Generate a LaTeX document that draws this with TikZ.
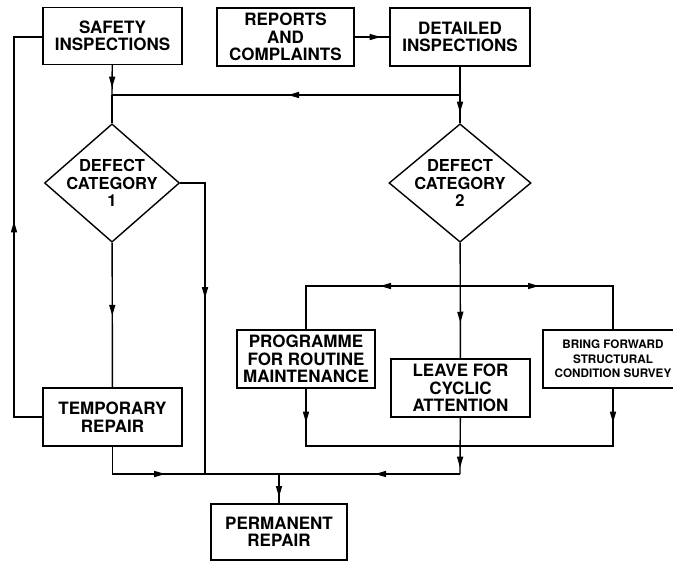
\documentclass[tikz,border=0pt]{standalone}
\usepackage{fontspec}
\setmainfont{TeX Gyre Heros}
\usetikzlibrary{shapes.geometric,arrows.meta,decorations.markings}
\tikzstyle{box} = [rectangle, draw, line width=1.4pt, align=center, font=\bfseries\fontsize{17}{17.5}\selectfont, minimum width=139pt, minimum height=58pt, inner sep=2pt]
\tikzstyle{decision} = [diamond, draw, line width=1.4pt, align=center, font=\bfseries\fontsize{16.5}{17.5}\selectfont, minimum width=135pt, minimum height=118pt, inner sep=-5pt]
\tikzstyle{connector} = [line width=1.4pt]
\tikzset{arrowat/.style={postaction={decorate}, decoration={markings, mark=at position #1 with {\arrow{Triangle[length=11pt,width=6pt]}}}}}

\begin{document}
\begin{tikzpicture}[x=1pt, y=-1pt]
    \useasboundingbox [fill=white] (0,0) rectangle (673,562);

    \node (safe) [box, minimum height=57pt] at (112.5,36) {SAFETY\\INSPECTIONS};
    \node (rep) [box, minimum width=137pt] at (285.5,37) {REPORTS\\AND\\COMPLAINTS};
    \node (det) [box, minimum width=140pt] at (460,37) {DETAILED\\INSPECTIONS};
    \node (dia1) [decision] at (112,183) {DEFECT\\CATEGORY\\1};
    \node (dia2) [decision, minimum width=142pt] at (460,183) {DEFECT\\CATEGORY\\2};
    \node (temp) [box] at (112.5,417) {TEMPORARY\\REPAIR};
    \node (prog) [box, minimum width=138pt] at (306,359) {PROGRAMME\\FOR ROUTINE\\MAINTENANCE};
    \node (leave) [box] at (460.5,388) {LEAVE FOR\\CYCLIC\\ATTENTION};
    \node (bring) [box, minimum width=140pt, font=\bfseries\fontsize{11.7}{14.5}\selectfont] at (613,359) {BRING FORWARD\\STRUCTURAL\\CONDITION SURVEY};
    \node (perm) [box, minimum width=136pt, minimum height=56pt] at (279,532) {PERMANENT\\REPAIR};

    % junctions
    \coordinate (j1) at (112,95);
    \coordinate (jr) at (460,95);
    \coordinate (j4) at (460,286);
    \coordinate (j5) at (460,446);
    \coordinate (jl) at (460,474);
    \coordinate (jb) at (205,474);
    \coordinate (j2) at (279,474);
    \coordinate (lb) at (14,417);
    \coordinate (lt) at (14,37);

    \draw [connector, arrowat=22.5pt] (safe) -- (j1);
    \draw [connector] (j1) -- (dia1);
    \draw [connector, arrowat=26pt] (rep) -- (det);
    \draw [connector, arrowat=46pt] (det) -- (dia2);
    \draw [connector, arrowat=172pt] (jr) -- (j1);
    \draw [connector, arrowat=224pt] (temp.west) -- (lb) -- (lt) -- (safe.west |- lt);
    \draw [connector, arrowat=73pt] (dia1) -- (temp);
    \draw [connector, arrowat=140pt] (dia1.east) -| (jb);
    \draw [connector, arrowat=80pt] (temp.south) |- (j2);
    \draw [connector, arrowat=80pt] (dia2) -- (leave);
    \draw [connector, arrowat=80pt] (j4) -| (prog);
    \draw [connector, arrowat=79pt] (j4) -| (bring);
    \draw [connector, arrowat=34pt] (prog) |- (j5);
    \draw [connector, arrowat=34pt] (bring) |- (j5);
    \draw [connector, arrowat=50pt] (leave) -- (jl);
    \draw [connector, arrowat=85pt] (jl) -- (j2);
    \draw [connector, arrowat=23pt] (j2) -- (perm);
\end{tikzpicture}
\end{document}
